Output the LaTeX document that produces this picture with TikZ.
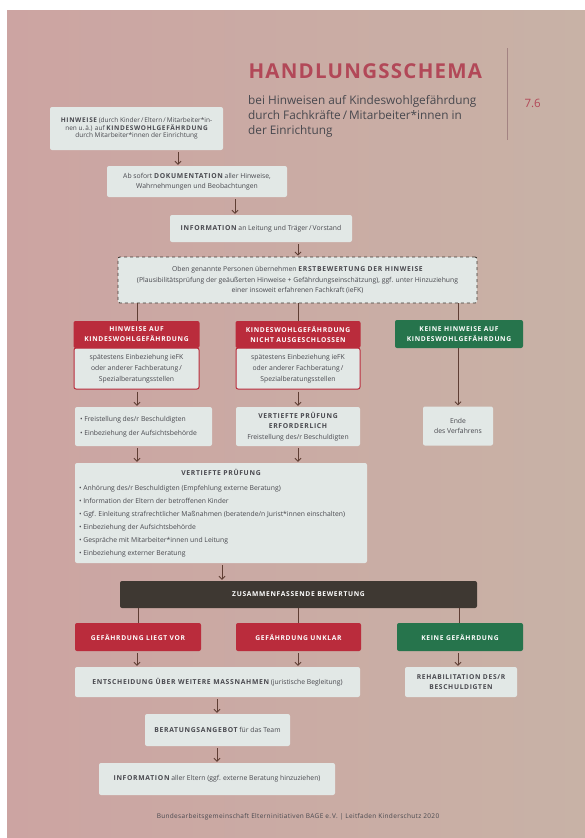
\documentclass[tikz,border=0pt]{standalone}
\usepackage{fontspec}
\setmainfont{Open Sans}
\usepackage{tikz}
\usetikzlibrary{arrows.meta, shapes, positioning}
\definecolor{pageleft}{RGB}{204,164,162}
\definecolor{pageright}{RGB}{200,178,166}
\definecolor{boxfill}{RGB}{226,232,230}
\definecolor{alarmred}{RGB}{186,44,60}
\definecolor{safegreen}{RGB}{38,116,76}
\definecolor{darkbar}{RGB}{62,56,50}
\definecolor{linebrown}{RGB}{95,62,52}
\definecolor{textgray}{RGB}{72,72,78}
\definecolor{titlered}{RGB}{178,72,88}
\newcommand{\kap}[1]{{\bfseries\addfontfeature{LetterSpace=10}#1}}
\tikzstyle{box} = [fill=boxfill, rounded corners=2pt, align=center, inner sep=0pt, text=textgray,
                   font=\fontsize{6.8}{10.5}\selectfont]
\tikzstyle{dashbox} = [box, draw=darkbar, dashed, line width=0.9pt]
\tikzstyle{redbody} = [box, draw=alarmred, line width=1pt]
\tikzstyle{head} = [rounded corners=2pt, align=center, inner sep=0pt, text=white,
                    font=\fontsize{6.7}{10}\selectfont]
\tikzstyle{redhead} = [head, fill=alarmred]
\tikzstyle{greenhead} = [head, fill=safegreen]
\tikzstyle{link} = [draw=linebrown, line width=0.9pt]
\tikzstyle{arr} = [link, -{Straight Barb[length=3pt, width=6pt]}, shorten <=2pt, shorten >=1pt]

\begin{document}
\begin{tikzpicture}[x=1pt, y=-1pt]
				\useasboundingbox (0,0) rectangle (585,838);
				\fill[white] (0,0) rectangle (585,838);
				\shade[left color=pageleft, right color=pageright] (7,10) rectangle (585,838);

				% heading
				\node (Title) [anchor=base west, text=titlered, font=\fontsize{20.5}{21}\selectfont\bfseries\addfontfeature{LetterSpace=6}] at (245,78) {HANDLUNGSSCHEMA};
				\node (Sub) [anchor=north west, align=left, inner sep=0pt, text=textgray, font=\fontsize{11.8}{15}\selectfont] at (248,95) {bei Hinweisen auf Kindeswohlgefährdung\\durch Fachkräfte\,/\,Mitarbeiter*innen in\\der Einrichtung};
				\node (Chapter) [anchor=base west, text=titlered, font=\fontsize{11.5}{15}\selectfont] at (521,107) {7.6};
				\draw [draw=pageleft!80!black, line width=0.6pt] (507,48) -- (507,140);

				% first steps
				\node (Hinweise) [box, minimum width=173pt, minimum height=43pt, font=\fontsize{6.5}{7.5}\selectfont] at (136.5,128.5) {\kap{HINWEISE} (durch Kinder\,/\,Eltern\,/\,Mitarbeiter*in-\\nen u.\,ä.) auf \kap{KINDESWOHLGEFÄHRDUNG}\\durch Mitarbeiter*innen der Einrichtung};
				\node (Doku) [box, minimum width=180pt, minimum height=31pt] at (197,181.5) {Ab sofort \kap{DOKUMENTATION} aller Hinweise,\\Wahrnehmungen und Beobachtungen};
				\node (Info) [box, minimum width=182pt, minimum height=27pt] at (261,228.5) {\kap{INFORMATION} an Leitung und Träger\,/\,Vorstand};
				\node (Erst) [dashbox, minimum width=359pt, minimum height=46pt] at (297.5,280) {Oben genannte Personen übernehmen \kap{ERSTBEWERTUNG DER HINWEISE}\\(Plausibilitätsprüfung der geäußerten Hinweise + Gefährdungseinschätzung), ggf. unter Hinzuziehung\\einer insoweit erfahrenen Fachkraft (ieFK)};

				\draw [arr] (178,0 |- Hinweise.south) -- (178,0 |- Doku.north);
				\draw [arr] (235,0 |- Doku.south) -- (235,0 |- Info.north);
				\draw [arr] (298,0 |- Info.south) -- (298,0 |- Erst.north);

				% first assessment
				\node (RedBodyA) [redbody, minimum width=125pt, minimum height=41pt, font=\fontsize{6.8}{11}\selectfont] at (136.5,368.5) {spätestens Einbeziehung ieFK\\oder anderer Fachberatung\,/\\Spezialberatungsstellen};
				\node (RedHeadA) [redhead, minimum width=126pt, minimum height=27pt] at (136.5,334.5) {\kap{HINWEISE AUF}\\\kap{KINDESWOHLGEFÄHRDUNG}};
				\node (RedBodyB) [redbody, minimum width=124pt, minimum height=41pt, font=\fontsize{6.8}{11}\selectfont] at (298,368.5) {spätestens Einbeziehung ieFK\\oder anderer Fachberatung\,/\\Spezialberatungsstellen};
				\node (RedHeadB) [redhead, minimum width=125pt, minimum height=27pt] at (298,334.5) {\kap{KINDESWOHLGEFÄHRDUNG}\\\kap{NICHT AUSGESCHLOSSEN}};
				\node (GreenHead) [greenhead, minimum width=128pt, minimum height=28pt] at (459,334) {\kap{KEINE HINWEISE AUF}\\\kap{KINDESWOHLGEFÄHRDUNG}};

				\draw [link] (137,0 |- Erst.south) -- (137,0 |- RedHeadA.north);
				\draw [link] (298,0 |- Erst.south) -- (298,0 |- RedHeadB.north);
				\draw [link] (458,0 |- Erst.south) -- (458,0 |- GreenHead.north);

				% consequences
				\node (Frei) [box, minimum width=137pt, minimum height=39pt, align=left, font=\fontsize{6.8}{14}\selectfont] at (143.5,426.5) {\makebox[127pt][l]{\textbullet\ Freistellung des/r Beschuldigten}\\\textbullet\ Einbeziehung der Aufsichtsbehörde};
				\node (Pruef) [box, minimum width=124pt, minimum height=39pt] at (298,426.5) {\kap{VERTIEFTE PRÜFUNG}\\\kap{ERFORDERLICH}\\Freistellung des/r Beschuldigten};
				\node (Ende) [box, minimum width=70pt, minimum height=39pt] at (458,426) {Ende\\des Verfahrens};

				\draw [arr] (137,0 |- RedBodyA.south) -- (137,0 |- Frei.north);
				\draw [arr] (298,0 |- RedBodyB.south) -- (298,0 |- Pruef.north);
				\draw [link, -{Straight Barb[length=3pt, width=6pt]}, shorten >=1pt] (458,0 |- GreenHead.south) -- (458,0 |- Ende.north);

				% in-depth review
				\node (Tief) [box, minimum width=292pt, minimum height=100pt, align=left, font=\fontsize{6.8}{13}\selectfont] at (221,513) {\makebox[284pt]{\kap{VERTIEFTE PRÜFUNG}}\\[2pt]
					\textbullet\ Anhörung des/r Beschuldigten (Empfehlung externe Beratung)\\
					\textbullet\ Information der Eltern der betroffenen Kinder\\
					\textbullet\ Ggf. Einleitung strafrechtlicher Maßnahmen (beratende/n Jurist*innen einschalten)\\
					\textbullet\ Einbeziehung der Aufsichtsbehörde\\
					\textbullet\ Gespräche mit Mitarbeiter*innen und Leitung\\
					\textbullet\ Einbeziehung externer Beratung};

				\draw [arr] (137,0 |- Frei.south) -- (137,0 |- Tief.north);
				\draw [arr] (298,0 |- Pruef.south) -- (298,0 |- Tief.north);

				% summary
				\node (Bewertung) [head, fill=darkbar, minimum width=357pt, minimum height=27pt] at (298.5,594.5) {\kap{ZUSAMMENFASSENDE BEWERTUNG}};
				\draw [arr] (222,0 |- Tief.south) -- (222,0 |- Bewertung.north);

				\node (LiegtVor) [redhead, minimum width=126pt, minimum height=28pt] at (138,637) {\kap{GEFÄHRDUNG LIEGT VOR}};
				\node (Unklar) [redhead, minimum width=125pt, minimum height=28pt] at (298.5,637) {\kap{GEFÄHRDUNG UNKLAR}};
				\node (Keine) [greenhead, minimum width=126pt, minimum height=28pt] at (460,637) {\kap{KEINE GEFÄHRDUNG}};

				\draw [link] (138,0 |- Bewertung.south) -- (138,0 |- LiegtVor.north);
				\draw [link] (298,0 |- Bewertung.south) -- (298,0 |- Unklar.north);
				\draw [link] (459,0 |- Bewertung.south) -- (459,0 |- Keine.north);

				% further measures
				\node (Entsch) [box, minimum width=285pt, minimum height=30pt] at (217.5,682) {\kap{ENTSCHEIDUNG ÜBER WEITERE MASSNAHMEN} (juristische Begleitung)};
				\node (Reha) [box, minimum width=112pt, minimum height=30pt, font=\fontsize{6.7}{10}\selectfont] at (461,682) {\kap{REHABILITATION DES/R}\\\kap{BESCHULDIGTEN}};

				\draw [arr] (137,0 |- LiegtVor.south) -- (137,0 |- Entsch.north);
				\draw [arr] (298,0 |- Unklar.south) -- (298,0 |- Entsch.north);
				\draw [arr] (458,0 |- Keine.south) -- (458,0 |- Reha.north);

				\node (Team) [box, minimum width=145pt, minimum height=32pt] at (217.5,730) {\kap{BERATUNGSANGEBOT} für das Team};
				\node (Eltern) [box, minimum width=236pt, minimum height=32pt] at (217,779) {\kap{INFORMATION} aller Eltern (ggf. externe Beratung hinzuziehen)};

				\draw [arr] (217,0 |- Entsch.south) -- (217,0 |- Team.north);
				\draw [arr] (217,0 |- Team.south) -- (217,0 |- Eltern.north);

				% footer
				\node (Footer) [text=textgray, font=\fontsize{6.5}{7}\selectfont\addfontfeature{LetterSpace=5}] at (298,817) {Bundesarbeitsgemeinschaft Elterninitiativen BAGE e.\,V. | Leitfaden Kinderschutz 2020};
			\end{tikzpicture}
\end{document}
